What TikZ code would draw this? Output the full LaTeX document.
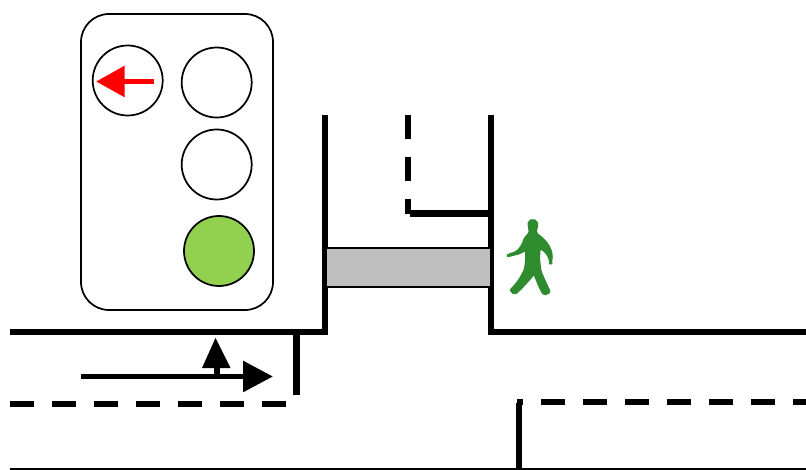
\documentclass[tikz,border=0pt]{standalone}
\usetikzlibrary{arrows.meta}
\definecolor{lampgreen}{HTML}{92D050}
\definecolor{walkgreen}{HTML}{2E8B2E}
\definecolor{walkway}{HTML}{BFBFBF}
\begin{document}
\begin{tikzpicture}[x=0.75pt,y=-0.75pt,
  road/.style={line width=4.7pt,black},
  roaddash/.style={line width=4.7pt,black,dash pattern=on 18pt off 13.5pt},
  lamp/.style={draw=black,line width=1.3pt,circle,minimum size=52.5pt,inner sep=0pt},
  pointer/.style={line width=4.4pt,black,-{Triangle[length=22.5pt,width=22.5pt]}},
  redpointer/.style={line width=4.4pt,red,-{Triangle[length=21.5pt,width=22.5pt]}}]
\useasboundingbox (0,0) rectangle (806,470);
\fill[white] (0,0) rectangle (806,470);
% signal head
\draw[line width=1.3pt,rounded corners=21pt] (81,14) rectangle (273,310);
\node[lamp] (redlamp) at (127.7,80.5) {};
\node[lamp] (lamptwo) at (216.7,82.5) {};
\node[lamp] (lampthree) at (216.7,164.5) {};
\node[lamp,fill=lampgreen] (greenlamp) at (219,251) {};
\coordinate (redtail) at (153.5,81.5);
\coordinate (redtip) at (96,81.5);
\draw[redpointer] (redtail) -- (redtip);
% road edges
\draw[road,line join=miter] (10,332.3) -- (324.7,332.3) -- (324.7,115);
\draw[road,line join=miter] (491.3,115) -- (491.3,332.3) -- (806,332.3);
\draw[roaddash] (408,115) -- (408,214);
\draw[road] (410,213.5) -- (491.3,213.5);
% crossing
\node[draw=black,line width=1.3pt,fill=walkway,minimum width=124pt,minimum height=29.2pt,inner sep=0pt,anchor=north west] (walk) at (325,247) {};
% stop line and lanes
\draw[road] (296.5,332.3) -- (296.5,395);
\draw[roaddash] (10,404) -- (290,404);
\draw[road] (517,402) -- (523,402);
\draw[roaddash] (541,402) -- (806,402);
\draw[road] (519,403) -- (519,468.5);
\draw[line width=1.5pt] (10,468.5) -- (806,468.5);
% vehicle arrows
\coordinate (upstem) at (217,376.5);
\coordinate (uptip) at (215.5,338);
\draw[line width=3.8pt] (upstem) -- (217,366);
\fill (uptip) -- (230.5,368) -- (202,368) -- cycle;
\coordinate (ahead) at (81,376.5);
\coordinate (aheadtip) at (273,376.5);
\draw[pointer] (ahead) -- (aheadtip);
% pedestrian
\begin{scope}[shift={(480,200)},x=0.25pt,y=-0.25pt]
\filldraw[walkgreen,line width=1pt,line join=round,rounded corners=1.5pt]
 (146,62) -- (158,58) -- (170,62) -- (174,74) -- (170,88) -- (167,98) -- (178,106) -- (196,122)
 -- (210,142) -- (217,165) -- (214,191) -- (210,191) -- (206,170) -- (190,150) -- (180,146)
 -- (178,175) -- (182,212) -- (196,245) -- (211,277) -- (191,286) -- (178,262) -- (162,222)
 -- (148,240) -- (122,268) -- (104,284) -- (89,270) -- (98,263) -- (118,238) -- (134,208)
 -- (138,175) -- (137,150) -- (122,160) -- (83,170) -- (82,164) -- (110,155) -- (126,135)
 -- (134,112) -- (148,100) -- (148,90) -- (144,76) -- cycle;
\end{scope}
\end{tikzpicture}
\end{document}
